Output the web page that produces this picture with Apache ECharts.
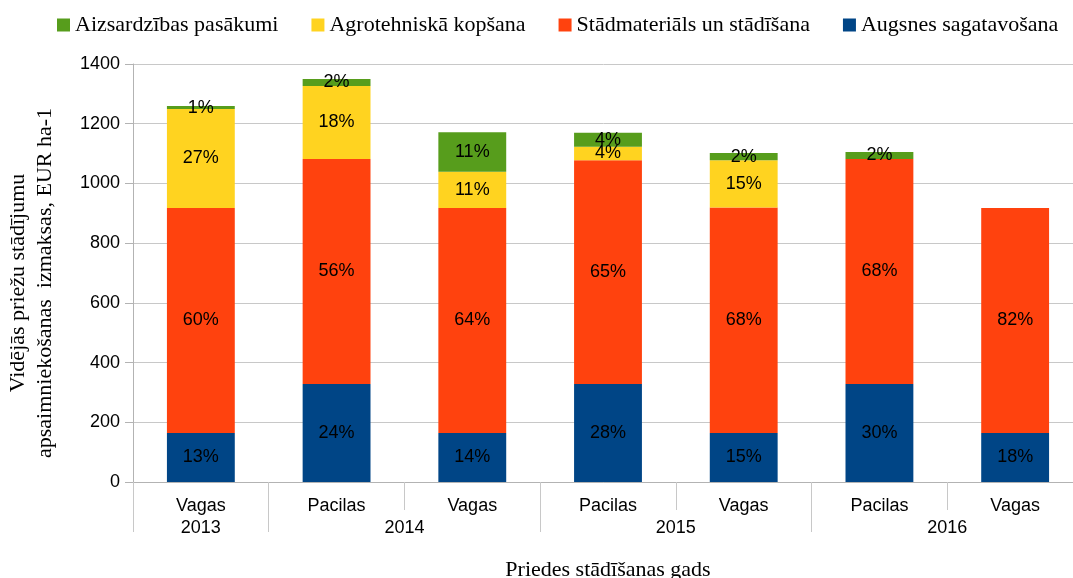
<!DOCTYPE html>
<html>
<head>
<meta charset="utf-8">
<script src="https://cdn.jsdelivr.net/npm/echarts@6/dist/echarts.min.js"></script>
<style>
    html, body { margin: 0; padding: 0; background: #fff; }
    #chart { width: 1073px; height: 578px; }
</style>
</head>
<body>
<div id="chart"></div>
<script>
    // kategorijas (vieta) un grupas (gads)
    const places = ['Vagas', 'Pacilas', 'Vagas', 'Pacilas', 'Vagas', 'Pacilas', 'Vagas']
    // gadu ass: pusi kategorijas platuma soļi, 15 punkti
    const yearSlots = ['', '2013', '', '', '2014', '', '', '', '2015', '', '', '', '2016', '', '']
    const yearTickIdx = [0, 2, 6, 10, 14]
    const yTicks = [0, 200, 400, 600, 800, 1000, 1200, 1400]

    // vērtības EUR ha-1
    const augsnes = [164, 328, 164, 328, 164, 328, 164]
    const stadmat = [754, 754, 754, 750, 755, 754, 754]
    const agrotehn = [331, 244, 121, 45, 159, 0, 0]
    const aizsardz = [10, 24, 132, 47, 24, 23, 0]

    // procentu uzraksti no attēla
    const augsnesPct = ['13%', '24%', '14%', '28%', '15%', '30%', '18%']
    const stadmatPct = ['60%', '56%', '64%', '65%', '68%', '68%', '82%']
    const agrotehnPct = ['27%', '18%', '11%', '4%', '15%', '', '']
    const aizsardzPct = ['1%', '2%', '11%', '4%', '2%', '2%', '']

    const sans = 'Liberation Sans'
    const serif = 'Liberation Serif'

    function mkSeries(name, values, labels, color) {
        return {
            name: name,
            type: 'bar',
            stack: 'total',
            barWidth: '50%',
            itemStyle: { color: color },
            label: {
                show: true,
                position: 'inside',
                color: '#000',
                fontFamily: sans,
                fontSize: 18,
                formatter: (p) => labels[p.dataIndex]
            },
            data: values
        }
    }

    const myChart = echarts.init(document.getElementById('chart'))

    const option = {
        animation: false,
        legend: {
            top: 9,
            left: 52,
            itemWidth: 13,
            itemHeight: 13,
            itemGap: 33,
            icon: 'rect',
            textStyle: { fontFamily: serif, fontSize: 22, color: '#000' },
            data: ['Aizsardzības pasākumi', 'Agrotehniskā kopšana', 'Stādmateriāls un stādīšana', 'Augsnes sagatavošana']
        },
        grid: {
            left: 133,
            top: 64,
            width: 950,
            bottom: 96,
            containLabel: false,
            outerBoundsMode: 'none'
        },
        xAxis: [
            {
                type: 'category',
                data: places,
                name: 'Priedes stādīšanas gads',
                nameLocation: 'middle',
                nameGap: 77,
                nameTextStyle: { fontFamily: serif, fontSize: 22, color: '#000' },
                axisLine: { lineStyle: { color: '#b3b3b3', width: 1 } },
                axisTick: { show: true, length: 28, lineStyle: { color: '#c8c8c8' } },
                axisLabel: { margin: 15, fontFamily: sans, fontSize: 18, color: '#000' }
            },
            {
                type: 'category',
                position: 'bottom',
                boundaryGap: false,
                data: yearSlots,
                axisLine: { show: false },
                axisTick: {
                    show: true,
                    length: 50,
                    interval: (i) => yearTickIdx.includes(i),
                    lineStyle: { color: '#c8c8c8' }
                },
                axisLabel: {
                    margin: 37,
                    interval: (i, v) => v !== '',
                    fontFamily: sans,
                    fontSize: 18,
                    color: '#000'
                }
            }
        ],
        yAxis: {
            type: 'value',
            min: yTicks[0],
            max: yTicks[yTicks.length - 1],
            interval: 200,
            name: 'Vidējās priežu stādījumu\napsaimniekošanas  izmaksas, EUR ha-1',
            nameLocation: 'middle',
            nameGap: 74,
            nameRotate: 90,
            nameTextStyle: {
                fontFamily: serif,
                fontSize: 22,
                color: '#000',
                lineHeight: 27,
                padding: [0, 20, 0, 0]
            },
            axisLine: { show: true, lineStyle: { color: '#b3b3b3' } },
            axisTick: { show: true, length: 8, lineStyle: { color: '#b3b3b3' } },
            axisLabel: {
                margin: 13,
                fontFamily: sans,
                fontSize: 18,
                color: '#000',
                formatter: (v) => String(v)
            },
            splitLine: { lineStyle: { color: '#c8c8c8' } }
        },
        series: [
            mkSeries('Augsnes sagatavošana', augsnes, augsnesPct, '#004586'),
            mkSeries('Stādmateriāls un stādīšana', stadmat, stadmatPct, '#ff420e'),
            mkSeries('Agrotehniskā kopšana', agrotehn, agrotehnPct, '#ffd320'),
            mkSeries('Aizsardzības pasākumi', aizsardz, aizsardzPct, '#579d1c')
        ]
    }

    myChart.setOption(option)
</script>
</body>
</html>
